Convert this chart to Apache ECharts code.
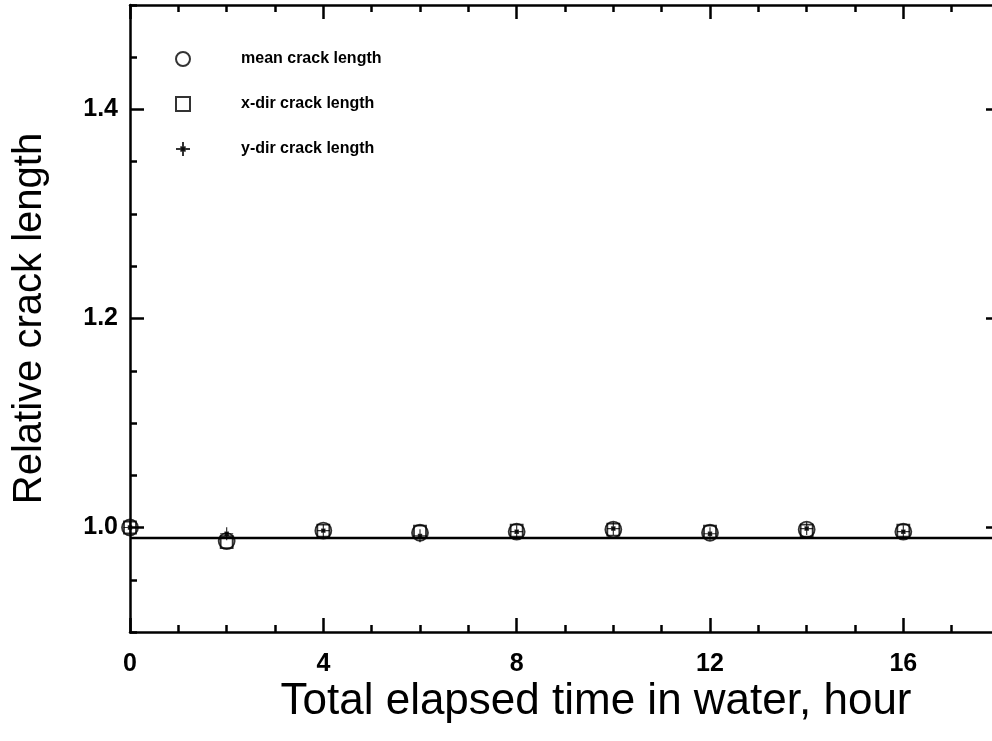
<!DOCTYPE html>
<html>
<head>
<meta charset="utf-8">
<script src="https://cdn.jsdelivr.net/npm/echarts@6/dist/echarts.min.js"></script>
<style>
html,body{margin:0;padding:0;background:#fff;}
#chart{width:992px;height:741px;}
</style>
</head>
<body>
<div id="chart"></div>
<script>
// ---- data ----
var hours = [0, 2, 4, 6, 8, 10, 12, 14, 16];
var meanCrack = [1.000, 0.987, 0.997, 0.995, 0.996, 0.998, 0.995, 0.998, 0.996];
var xDirCrack = [1.000, 0.986, 0.997, 0.996, 0.997, 0.998, 0.996, 0.997, 0.997];
var yDirCrack = [1.000, 0.994, 0.997, 0.992, 0.996, 0.999, 0.994, 0.999, 0.996];
var fitHours = [0, 18];
var fitValues = [0.990, 0.990];
var xMajorTicks = [0, 4, 8, 12, 16];
var yMajorTicks = [1.0, 1.2, 1.4];

function pairs(xs, ys) { return xs.map(function (x, i) { return [x, ys[i]]; }); }

var FONT = 'Liberation Sans, Arial, sans-serif';
var chart = echarts.init(document.getElementById('chart'), null, {renderer: 'canvas'});

var axisLine = {show: true, onZero: false, lineStyle: {color: '#000', width: 2.5}};
var noLine = {show: false, onZero: false};
function xAx(pos, major, withLabel) {
  var a = {
    type: 'value', position: pos, min: 0, max: 18,
    interval: 1,
    axisLine: major ? axisLine : noLine,
    axisTick: {show: true, inside: true, length: major ? 14 : 7, lineStyle: {color: '#000', width: 2.5}},
    axisLabel: {show: false},
    splitLine: {show: false}
  };
  if (major) {
    a.axisTick.customValues = xMajorTicks;
  }
  if (withLabel) {
    a.axisLabel = {show: true, customValues: xMajorTicks, margin: 20, color: '#000',
      fontFamily: FONT, fontWeight: 'bold', fontSize: 25};
    a.name = 'Total elapsed time in water, hour';
    a.nameLocation = 'middle';
    a.nameGap = 48;
    a.nameMoveOverlap = false;
    a.nameTextStyle = {color: '#000', fontFamily: FONT, fontSize: 44, padding: [0, 0, 0, 62]};
  }
  return a;
}
function yAx(pos, major, withLabel) {
  var a = {
    type: 'value', position: pos, min: 0.9, max: 1.5,
    axisLine: major ? axisLine : noLine,
    axisTick: {show: true, inside: true, length: major ? 14 : 7, lineStyle: {color: '#000', width: 2.5}},
    axisLabel: {show: false},
    splitLine: {show: false}
  };
  if (major) {
    a.axisTick.customValues = yMajorTicks;
    a.axisLabel = withLabel ? {show: true, customValues: yMajorTicks, margin: 12, color: '#000',
      fontFamily: FONT, fontWeight: 'bold', fontSize: 25,
      formatter: function (v) { return v.toFixed(1); }} : {show: false};
  } else {
    a.interval = 0.05;
  }
  if (withLabel) {
    a.name = 'Relative crack length';
    a.nameLocation = 'middle';
    a.nameGap = 80;
    a.nameMoveOverlap = false;
    a.nameTextStyle = {color: '#000', fontFamily: FONT, fontSize: 40};
  }
  return a;
}

var hollow = {color: 'transparent', borderColor: '#000', borderWidth: 1.8};
var option = {
  backgroundColor: '#fff',
  animation: false,
  grid: {left: 130, top: 5, right: -8, bottom: 109, containLabel: false, outerBoundsMode: 'none'},
  legend: {
    data: ['mean crack length', 'x-dir crack length', 'y-dir crack length'],
    orient: 'vertical', left: 170, top: 46,
    itemWidth: 14, itemHeight: 14, itemGap: 29,
    textStyle: {color: '#000', fontFamily: FONT, fontWeight: 'bold', fontSize: 16, padding: [0, 0, 0, 46]}
  },
  xAxis: [xAx('bottom', true, true), xAx('bottom', false, false), xAx('top', true, false), xAx('top', false, false)],
  yAxis: [yAx('left', true, true), yAx('left', false, false), yAx('right', true, false), yAx('right', false, false)],
  series: [
    {
      name: 'fit', type: 'line', data: pairs(fitHours, fitValues), showSymbol: false, symbol: 'none',
      lineStyle: {color: '#000', width: 2.5}, z: 1, silent: true
    },
    {
      name: 'mean crack length', type: 'scatter', data: pairs(hours, meanCrack),
      symbol: 'circle', symbolSize: 16, itemStyle: hollow, z: 3
    },
    {
      name: 'x-dir crack length', type: 'scatter', data: pairs(hours, xDirCrack),
      symbol: 'rect', symbolSize: 12, itemStyle: hollow, z: 3
    },
    {
      name: 'y-dir crack length', type: 'scatter', data: pairs(hours, yDirCrack),
      symbol: 'path://M0,-10 L0,10 M-10,0 L10,0 M-2.5,-2.5 L2.5,-2.5 L2.5,2.5 L-2.5,2.5 Z',
      symbolSize: 13, itemStyle: {color: '#000', borderColor: '#000', borderWidth: 1.2}, z: 4
    }
  ]
};
chart.setOption(option);
</script>
</body>
</html>
